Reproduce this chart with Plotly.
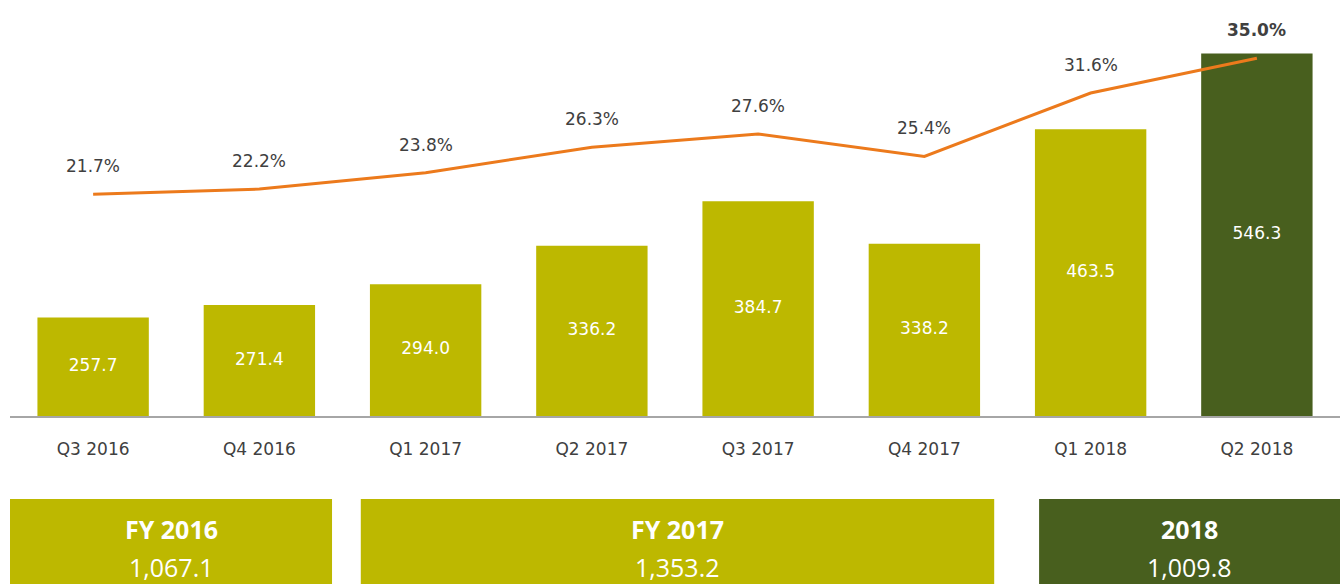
import plotly.graph_objects as go

quarters = ["Q3 2016", "Q4 2016", "Q1 2017", "Q2 2017", "Q3 2017", "Q4 2017", "Q1 2018", "Q2 2018"]
revenue = [257.7, 271.4, 294.0, 336.2, 384.7, 338.2, 463.5, 546.3]
margin_pct = [21.7, 22.2, 23.8, 26.3, 27.6, 25.4, 31.6, 35.0]
fy_labels = ["FY 2016", "FY 2017", "2018"]
fy_totals = ["1,067.1", "1,353.2", "1,009.8"]

LIGHT = "#BDB800"
DARK = "#485F1E"
ORANGE = "#EC7A1C"
TXT = "#404040"
FONT = "DejaVu Sans, Verdana, sans-serif"
BOXFONT = "Open Sans, Noto Sans, sans-serif"
Y_MIN = 150

bar_colors = [LIGHT] * 7 + [DARK]

fig = go.Figure()
fig.add_trace(go.Bar(
    x=quarters, y=revenue, marker=dict(color=bar_colors, line=dict(width=0)),
    width=0.67, textposition="none", yaxis="y", hoverinfo="skip",
))
# value labels centred in the visible part of each bar
fig.add_trace(go.Scatter(
    x=quarters, y=[(Y_MIN + v) / 2 for v in revenue], mode="text",
    text=[f"{v:.1f}" for v in revenue], textposition="middle center",
    textfont=dict(color="white", size=17, family=FONT), yaxis="y", hoverinfo="skip",
))
fig.add_trace(go.Scatter(
    x=quarters, y=margin_pct, mode="lines", line=dict(color=ORANGE, width=3),
    yaxis="y2", hoverinfo="skip",
))

for i, (q, p) in enumerate(zip(quarters, margin_pct)):
    fig.add_annotation(
        x=q, y=p, xref="x", yref="y2", yshift=28, showarrow=False,
        text=(f"<b>{p:.1f}%</b>" if i == len(quarters) - 1 else f"{p:.1f}%"),
        font=dict(color=TXT, size=17, family=FONT),
    )

# bottom summary boxes
box_spans = [(-0.5, 1.437), (1.61, 5.42), (5.69, 7.5)]
box_colors = [LIGHT, LIGHT, DARK]
for (x0, x1), col, lab, tot in zip(box_spans, box_colors, fy_labels, fy_totals):
    fig.add_shape(type="rect", xref="x", yref="paper", x0=x0, x1=x1,
                  y0=-0.42, y1=-0.1995, fillcolor=col, line=dict(width=0), layer="below")
    xm = (x0 + x1) / 2
    fig.add_annotation(x=xm, y=-0.272, xref="x", yref="paper", showarrow=False,
                       yanchor="middle", xanchor="center",
                       text=f"<b>{lab}</b>", font=dict(color="white", size=25, family=BOXFONT))
    fig.add_annotation(x=xm, y=-0.363, xref="x", yref="paper", showarrow=False,
                       yanchor="middle", xanchor="center",
                       text=tot, font=dict(color="white", size=25, family=BOXFONT))

fig.update_layout(
    width=1343, height=584,
    margin=dict(l=10, r=3, t=0, b=168),
    paper_bgcolor="white", plot_bgcolor="white",
    showlegend=False,
    xaxis=dict(type="category", range=[-0.5, 7.5], showgrid=False, zeroline=False,
               showline=True, linecolor="#A6A6A6", linewidth=2, ticks="",
               ticklabelstandoff=17,
               tickfont=dict(color=TXT, size=17, family=FONT)),
    yaxis=dict(range=[Y_MIN, 604.8], visible=False, showgrid=False, zeroline=False),
    yaxis2=dict(range=[0, 40.7], overlaying="y", visible=False, showgrid=False, zeroline=False),
)

fig.write_html("out.html", config={"displayModeBar": False},
               post_script="document.body.style.margin='0';document.body.style.padding='0';")
